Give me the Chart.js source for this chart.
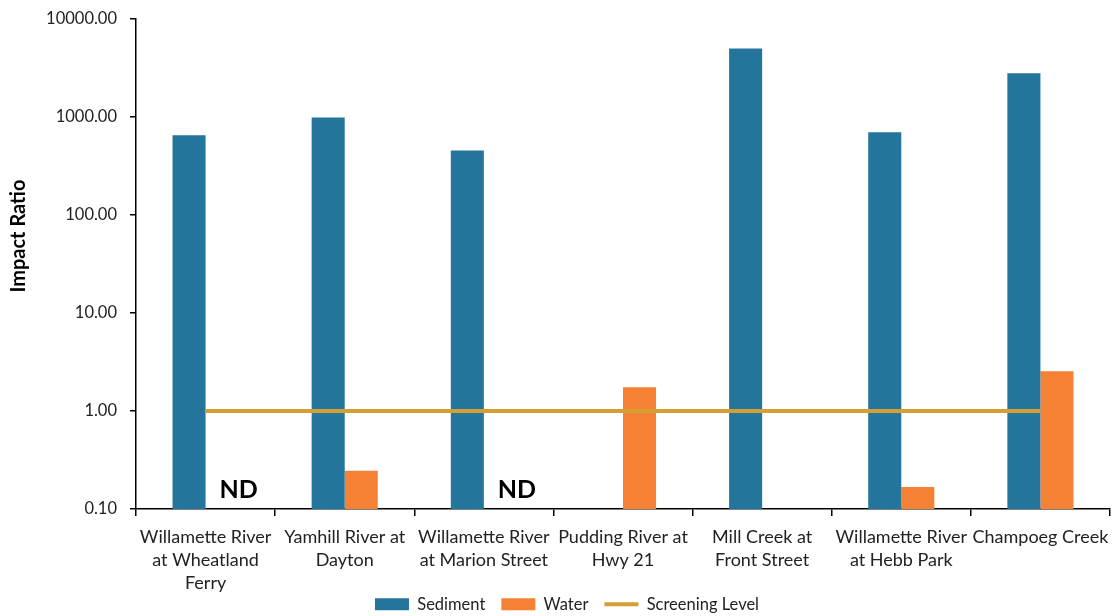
<!DOCTYPE html>
<html>
<head>
<meta charset="utf-8">
<script src="https://cdn.jsdelivr.net/npm/chart.js@4.4.0/dist/chart.umd.min.js"></script>
<style>
  html, body { margin: 0; padding: 0; background: #ffffff; }
  #wrap { width: 1112px; height: 616px; }
</style>
</head>
<body>
<div id="wrap"><canvas id="c" width="1112" height="616"></canvas></div>
<script>
// Sampling sites along the river reach
const sites = [
  ['Willamette River', 'at Wheatland', 'Ferry'],
  ['Yamhill River at', 'Dayton'],
  ['Willamette River', 'at Marion Street'],
  ['Pudding River at', 'Hwy 21'],
  ['Mill Creek at', 'Front Street'],
  ['Willamette River', 'at Hebb Park'],
  ['Champoeg Creek']
];

// Impact ratios per medium (null = no bar)
const sediment = [650, 990, 455, null, 5000, 700, 2800];
const water = [null, 0.245, null, 1.75, null, 0.168, 2.55];

// Screening level (impact ratio of 1)
const screening = [1, 1, 1, 1, 1, 1, 1];

// Non-detect annotations for the water series
const waterNotes = ['ND', '', 'ND', '', '', '', ''];
const noteLevel = 0.155;

// Y-axis decade ticks
const yTicks = [0.1, 1, 10, 100, 1000, 10000];
const yTitle = 'Impact Ratio';

const FONT = 'Lato, "Open Sans", "Liberation Sans", sans-serif';
const C_SED = '#23759B';
const C_WAT = '#F58234';
const C_SCR = '#D4A033';

// Writes the "ND" notes beside the sediment bars
const notesPlugin = {
  id: 'notes',
  afterDatasetsDraw(chart) {
    const x = chart.scales.x, y = chart.scales.y;
    const meta = chart.getDatasetMeta(1);
    const ctx = chart.ctx;
    ctx.save();
    ctx.font = 'bold 25px ' + FONT;
    ctx.fillStyle = '#000000';
    ctx.textAlign = 'center';
    ctx.textBaseline = 'middle';
    waterNotes.forEach((t, i) => {
      if (!t) return;
      const bw = meta.data[i] ? meta.data[i].width : 33;
      ctx.fillText(t, x.getPixelForValue(i) + bw, y.getPixelForValue(noteLevel));
    });
    ctx.restore();
  }
};

// Vertical axis title, set a little above the middle of the plot
const yTitlePlugin = {
  id: 'ytitle',
  afterDraw(chart) {
    const a = chart.chartArea;
    const ctx = chart.ctx;
    ctx.save();
    ctx.translate(19, a.top + (a.bottom - a.top) * 0.443);
    ctx.rotate(-Math.PI / 2);
    ctx.font = 'bold 20px ' + FONT;
    ctx.fillStyle = '#000000';
    ctx.textAlign = 'center';
    ctx.textBaseline = 'middle';
    ctx.fillText(yTitle, 0, 0);
    ctx.restore();
  }
};

new Chart(document.getElementById('c'), {
  type: 'bar',
  data: {
    labels: sites,
    datasets: [
      {
        type: 'line',
        label: 'Screening Level',
        data: screening,
        borderColor: C_SCR,
        backgroundColor: C_SCR,
        borderWidth: 4,
        pointRadius: 0,
        order: 0
      },
      {
        label: 'Sediment',
        data: sediment,
        backgroundColor: C_SED,
        order: 1,
        categoryPercentage: 0.475,
        barPercentage: 1.0
      },
      {
        label: 'Water',
        data: water,
        backgroundColor: C_WAT,
        order: 1,
        categoryPercentage: 0.475,
        barPercentage: 1.0
      }
    ]
  },
  options: {
    responsive: false,
    animation: false,
    layout: { padding: { left: 24, right: 2, top: 19, bottom: 0 } },
    plugins: {
      tooltip: { enabled: false },
      legend: {
        position: 'bottom',
        maxHeight: 36,
        labels: {
          font: { family: FONT, size: 16.5, lineHeight: 1 },
          color: '#222222',
          usePointStyle: true,
          pointStyleWidth: 34,
          boxHeight: 12,
          padding: 16,
          generateLabels(chart) {
            const items = Chart.defaults.plugins.legend.labels.generateLabels(chart);
            const order = ['Sediment', 'Water', 'Screening Level'];
            items.forEach(it => {
              const ds = chart.data.datasets[it.datasetIndex];
              if (ds.type === 'line') {
                it.pointStyle = 'line';
                it.strokeStyle = C_SCR;
                it.lineWidth = 4;
              } else {
                it.pointStyle = 'rect';
                it.lineWidth = 0;
                it.strokeStyle = ds.backgroundColor;
              }
            });
            items.sort((a, b) => order.indexOf(a.text) - order.indexOf(b.text));
            return items;
          }
        }
      }
    },
    scales: {
      x: {
        offset: true,
        grid: {
          offset: true,
          drawOnChartArea: false,
          drawTicks: true,
          tickLength: 7,
          color: '#000000',
          lineWidth: 1.5
        },
        border: { color: '#000000', width: 1.5 },
        ticks: {
          autoSkip: false,
          maxRotation: 0,
          minRotation: 0,
          padding: 10,
          color: '#222222',
          font: { family: FONT, size: 18, lineHeight: 1.28 }
        },
        afterFit(scale) {
          scale.height = 71;
          scale.paddingLeft = 0;
          scale.paddingRight = 0;
          // let the three-line labels run below the axis box
          scale._computeLabelArea = () => undefined;
        }
      },
      y: {
        type: 'logarithmic',
        min: 0.1,
        max: 10000,
        grid: {
          drawOnChartArea: false,
          drawTicks: true,
          tickLength: 6,
          color: '#000000',
          lineWidth: 1.5
        },
        border: { color: '#000000', width: 1.5 },
        afterBuildTicks(scale) {
          scale.ticks = yTicks.map(v => ({ value: v }));
        },
        ticks: {
          color: '#222222',
          padding: 13,
          font: { family: FONT, size: 16.5 },
          callback: v => Number(v).toFixed(2)
        },
        afterFit(scale) {
          scale.width = 112;
          scale.paddingTop = 0;
          scale.paddingBottom = 0;
        }
      }
    }
  },
  plugins: [notesPlugin, yTitlePlugin]
});
</script>
</body>
</html>
